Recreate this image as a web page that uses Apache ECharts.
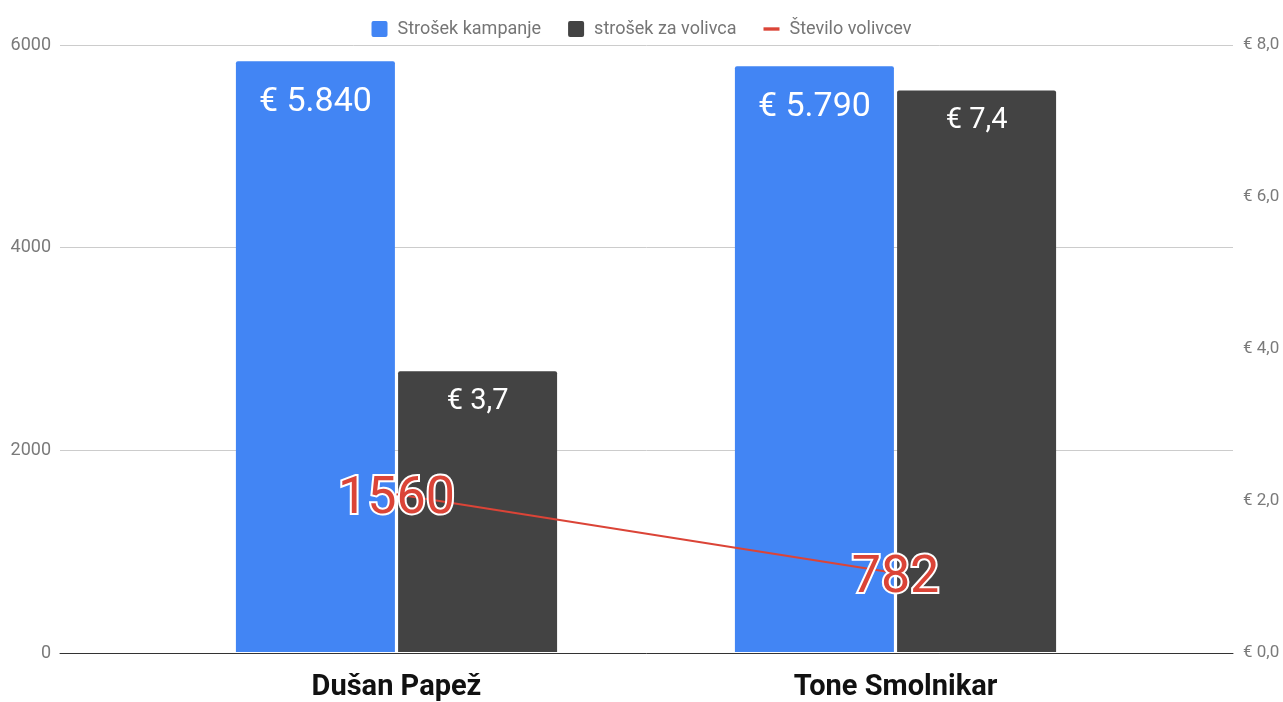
<!DOCTYPE html>
<html>
<head>
<meta charset="utf-8">
<script src="https://cdn.jsdelivr.net/npm/echarts@6/dist/echarts.min.js"></script>
<style>
  html, body { margin: 0; padding: 0; background: #fff; }
  #chart { width: 1283px; height: 702px; }
</style>
</head>
<body>
<div id="chart"></div>
<script>
var kandidati = ['Dušan Papež', 'Tone Smolnikar']
var strosekKampanje = [5840, 5790]
var strosekZaVolivca = [3.7, 7.4]
var steviloVolivcev = [1560, 782]
var levaOs = { min: 0, max: 6000, interval: 2000 }
var desnaOs = { min: 0, max: 8, interval: 2 }

var modra = '#4285f4'
var temna = '#434343'
var rdeca = '#db4437'
var kvadrat = 'path://M2,0h12a2,2 0 0 1 2,2v12a2,2 0 0 1 -2,2h-12a2,2 0 0 1 -2,-2v-12a2,2 0 0 1 2,-2z'

function evro (v, dec) {
  var s = v.toFixed(dec).split('.')
  var cela = s[0].replace(/\B(?=(\d{3})+(?!\d))/g, '.')
  return '€ ' + cela + (s.length > 1 ? ',' + s[1] : '')
}

var chart = echarts.init(document.getElementById('chart'))
chart.setOption({
  animation: false,
  textStyle: { fontFamily: 'Roboto' },
  legend: {
    top: 15,
    left: 'center',
    itemWidth: 16,
    itemHeight: 16,
    itemGap: 27,
    textStyle: { color: '#757575', fontSize: 18, fontFamily: 'Roboto', padding: [0, 0, 0, 5] },
    data: [
      { name: 'Strošek kampanje', icon: kvadrat },
      { name: 'strošek za volivca', icon: kvadrat },
      { name: 'Število volivcev', icon: 'path://M0,0h19v4H0z', itemStyle: { color: rdeca } }
    ]
  },
  // grid 0: mreža in osi čez celo širino, grid 1: stolpci in črta
  grid: [
    { left: 60, right: 50, top: 45, bottom: 49 },
    { left: 147, right: 138, top: 45, bottom: 49 }
  ],
  xAxis: [
    {
      gridIndex: 0,
      type: 'category',
      data: kandidati,
      axisLine: { lineStyle: { color: '#333', width: 1 } },
      axisTick: { show: false },
      axisLabel: { show: false }
    },
    {
      gridIndex: 1,
      type: 'category',
      data: kandidati,
      axisLine: { show: false },
      axisTick: { show: false },
      axisLabel: { color: '#111', fontSize: 29, fontWeight: 'bold', margin: 21 }
    }
  ],
  yAxis: [
    {
      gridIndex: 0,
      type: 'value',
      min: levaOs.min, max: levaOs.max, interval: levaOs.interval,
      axisLine: { show: false },
      axisTick: { show: false },
      axisLabel: { color: '#7a7a7a', fontSize: 18, margin: 9, formatter: function (v) { return String(v) } },
      splitLine: { lineStyle: { color: '#ccc' } }
    },
    {
      gridIndex: 0,
      type: 'value',
      position: 'right',
      min: desnaOs.min, max: desnaOs.max, interval: desnaOs.interval,
      axisLine: { show: false },
      axisTick: { show: false },
      axisLabel: { color: '#7a7a7a', fontSize: 17, margin: 10, formatter: function (v) { return evro(v, 1) } },
      splitLine: { show: false }
    },
    {
      gridIndex: 1,
      type: 'value',
      min: levaOs.min, max: levaOs.max,
      show: false,
      splitLine: { show: false }
    },
    {
      gridIndex: 1,
      type: 'value',
      min: desnaOs.min, max: desnaOs.max,
      show: false,
      splitLine: { show: false }
    }
  ],
  series: [
    {
      name: 'Strošek kampanje',
      type: 'bar',
      xAxisIndex: 1,
      yAxisIndex: 2,
      barWidth: 159,
      barGap: '2%',
      itemStyle: { color: modra, borderRadius: [2, 2, 0, 0] },
      label: {
        show: true,
        position: 'insideTop',
        distance: 24,
        color: '#fff',
        fontSize: 34,
        formatter: function (p) { return evro(p.value, 0) }
      },
      data: strosekKampanje
    },
    {
      name: 'strošek za volivca',
      type: 'bar',
      xAxisIndex: 1,
      yAxisIndex: 3,
      barWidth: 159,
      barGap: '2%',
      itemStyle: { color: temna, borderRadius: [2, 2, 0, 0] },
      label: {
        show: true,
        position: 'insideTop',
        distance: 16,
        color: '#fff',
        fontSize: 29,
        formatter: function (p) { return evro(p.value, 1) }
      },
      data: strosekZaVolivca
    },
    {
      name: 'Število volivcev',
      type: 'line',
      xAxisIndex: 1,
      yAxisIndex: 2,
      symbol: 'circle',
      symbolSize: 0,
      showSymbol: true,
      z: 5,
      itemStyle: { color: rdeca },
      lineStyle: { color: rdeca, width: 2 },
      label: {
        show: true,
        position: 'inside',
        offset: [0, 6],
        color: rdeca,
        fontSize: 52,
        textBorderColor: '#fff',
        textBorderWidth: 4
      },
      data: steviloVolivcev
    }
  ]
})
</script>
</body>
</html>
